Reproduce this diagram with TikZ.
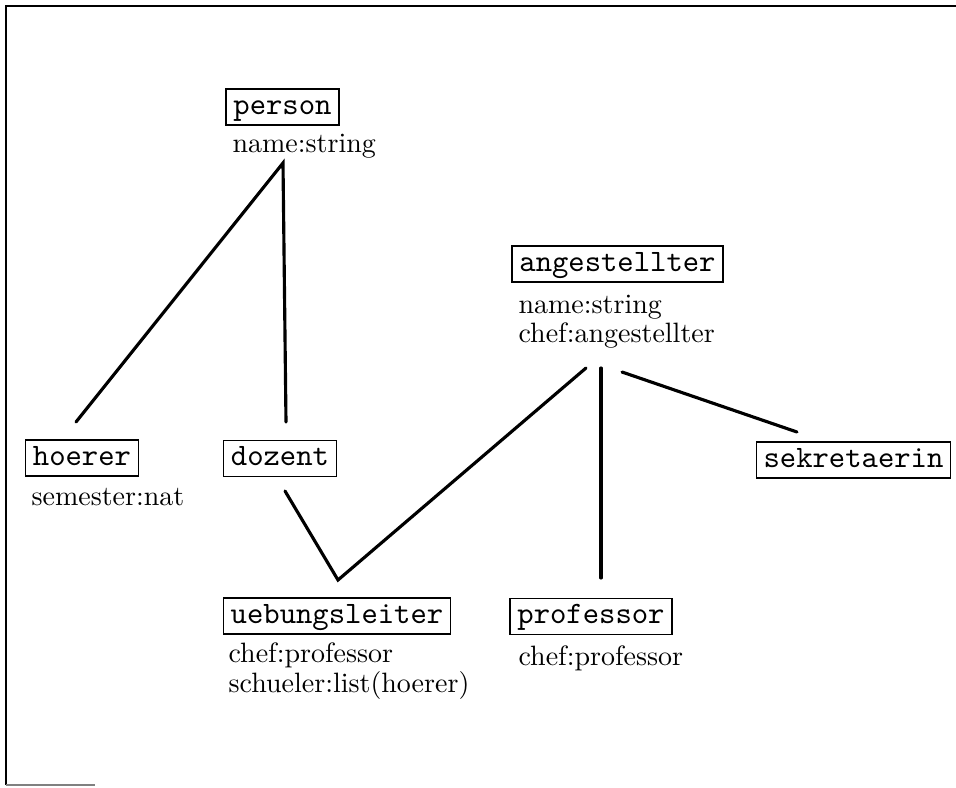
\documentclass[tikz,border=0pt]{standalone}
\usepackage{fontspec}
\begin{document}
\begin{tikzpicture}[x=0.35pt,y=-0.35pt,
  cls/.style={draw,line width=0.4pt,font=\fontsize{10.9}{12}\ttfamily,inner xsep=2.6pt,inner ysep=0pt,minimum height=12.6pt,text height=6.6pt,text depth=1.6pt},
  attr/.style={font=\fontsize{9.8}{10.3}\selectfont\rmfamily,inner sep=0pt,anchor=base west},
  link/.style={line width=1.1pt,line cap=round}]
\useasboundingbox (0,0) rectangle (956,787);
% frame
\draw[line width=0.5pt] (6,785) -- (6,6) -- (956,6);
\draw[line width=0.4pt,gray] (6,785) -- (95,785);
% classes
\node[cls] (person) at (282.5,107) {person};
\node[attr] (personA) at (232,152) {name:string};
\node[cls] (angest) at (617.5,264) {angestellter};
\node[attr] (angestA) at (518,313) {name:string};
\node[attr] (angestB) at (518,342) {chef:angestellter};
\node[cls] (hoerer) at (82,458) {hoerer};
\node[attr] (hoererA) at (31,505) {semester:nat};
\node[cls] (dozent) at (280,458.5) {dozent};
\node[cls] (sekr) at (853.5,460) {sekretaerin};
\node[cls] (uebung) at (337,616) {uebungsleiter};
\node[attr] (uebungA) at (228,662) {chef:professor};
\node[attr] (uebungB) at (228,692) {schueler:list(hoerer)};
\node[cls] (prof) at (591,616.5) {professor};
\node[attr] (profA) at (518,665) {chef:professor};
% connector end points
\coordinate (pApex) at (283,163);
\coordinate (hTop) at (76,422);
\coordinate (dTop) at (286,422);
\coordinate (dBot) at (285,491);
\coordinate (uTop) at (338,580);
\coordinate (aL) at (586,368);
\coordinate (aM) at (601,368);
\coordinate (aR) at (622,372);
\coordinate (pTop) at (601,578);
\coordinate (sTop) at (797,432);
% connectors
\draw[link] (hTop) -- (pApex) -- (dTop);
\draw[link] (dBot) -- (uTop) -- (aL);
\draw[link] (aM) -- (pTop);
\draw[link] (aR) -- (sTop);
\end{tikzpicture}
\end{document}
